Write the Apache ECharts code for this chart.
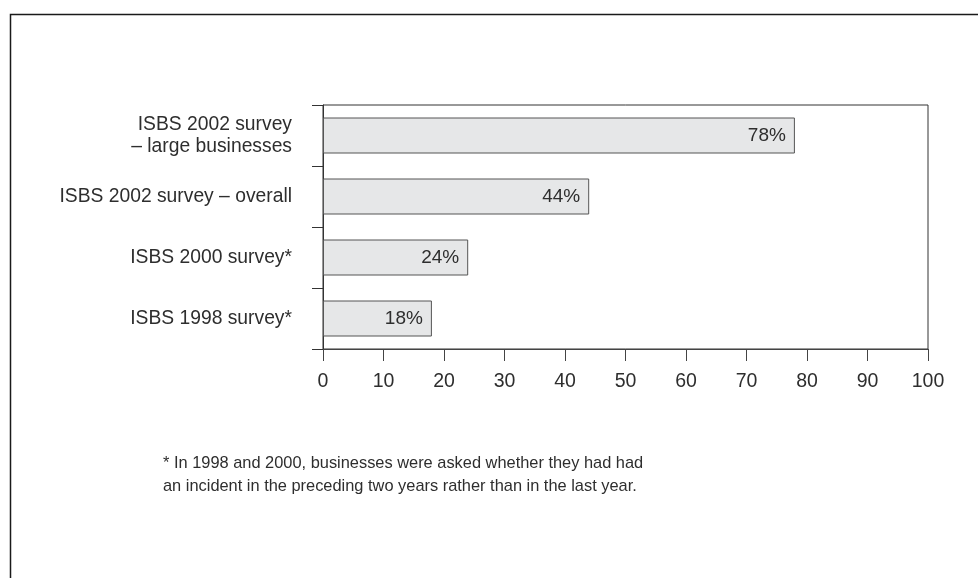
<!DOCTYPE html>
<html>
<head>
<meta charset="utf-8">
<script src="https://cdn.jsdelivr.net/npm/echarts@6/dist/echarts.min.js"></script>
<style>
html,body{margin:0;padding:0;background:#fff;}
#chart{width:978px;height:578px;}
</style>
</head>
<body>
<div id="chart"></div>
<script>
const categories = ['ISBS 1998 survey*', 'ISBS 2000 survey*', 'ISBS 2002 survey – overall', 'ISBS 2002 survey\n– large businesses'];
const values = [18, 24, 44, 78];
const xTicks = [0, 10, 20, 30, 40, 50, 60, 70, 80, 90, 100];
const footnote = '* In 1998 and 2000, businesses were asked whether they had had\nan incident in the preceding two years rather than in the last year.';

const FONT = 'Liberation Sans';
const TXT = '#2e2e2e';
const chart = echarts.init(document.getElementById('chart'), null, {renderer: 'canvas'});
chart.setOption({
  animation: false,
  backgroundColor: '#fff',
  textStyle: {fontFamily: FONT},
  grid: {left: 323, right: 50, top: 105, bottom: 229, show: true, borderColor: '#333', borderWidth: 1},
  xAxis: {
    type: 'value', min: xTicks[0], max: xTicks[xTicks.length - 1], interval: 10,
    axisLine: {show: true, lineStyle: {color: '#444', width: 1}},
    axisTick: {show: true, length: 12, lineStyle: {color: '#444'}},
    splitLine: {show: false},
    axisLabel: {margin: 23, fontSize: 19.5, color: TXT, fontFamily: FONT}
  },
  yAxis: {
    type: 'category', data: categories,
    axisLine: {show: true, lineStyle: {color: '#333', width: 1}},
    axisTick: {show: true, length: 11, lineStyle: {color: '#333'}},
    axisLabel: {margin: 31, fontSize: 19.3, lineHeight: 22, color: TXT, fontFamily: FONT, align: 'right'}
  },
  series: [{
    type: 'bar', data: values, barWidth: 36,
    itemStyle: {color: '#e6e7e8', borderColor: '#555', borderWidth: 1},
    label: {show: true, position: 'insideRight', distance: 9, formatter: '{c}%', fontSize: 19, color: TXT, fontFamily: FONT}
  }],
  graphic: [
    {type: 'polyline', shape: {points: [[10.5, 578], [10.5, 14.5], [978, 14.5]]}, style: {stroke: '#1a1a1a', lineWidth: 1.5, fill: null}, silent: true},
    {type: 'text', left: 163, top: 452, style: {text: footnote, font: '16.4px ' + FONT, fill: TXT, lineHeight: 23}}
  ]
});
</script>
</body>
</html>
